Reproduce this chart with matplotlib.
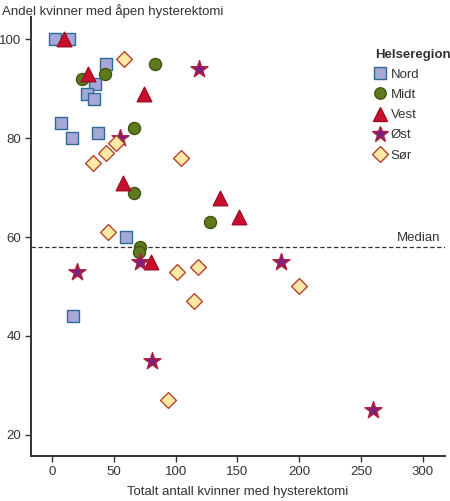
import matplotlib
matplotlib.use("Agg")
import matplotlib.pyplot as plt
from matplotlib.lines import Line2D

plt.rcParams['font.family'] = ['Liberation Sans', 'DejaVu Sans']

regions = ["Nord", "Midt", "Vest", "Øst", "Sør"]

nord_x = [2, 14, 44, 35, 28, 34, 7, 16, 37, 60, 17]
nord_y = [100, 100, 95, 91, 89, 88, 83, 80, 81, 60, 44]

midt_x = [24, 43, 83, 66, 66, 128, 71.5, 70]
midt_y = [92, 93, 95, 82, 69, 63, 58, 57]

vest_x = [10, 29, 74, 57, 136, 151, 80]
vest_y = [100, 93, 89, 71, 68, 64, 55]

ost_x = [119, 55, 71, 20, 81, 185, 260]
ost_y = [94, 80, 55, 53, 35, 55, 25]

sor_x = [58, 33, 44, 52, 104, 45, 101, 118, 115, 94, 200]
sor_y = [96, 75, 77, 79, 76, 61, 53, 54, 47, 27, 50]

median_value = 58

x_ticks = [0, 50, 100, 150, 200, 250, 300]
y_ticks = [20, 40, 60, 80, 100]

styles = {
    "Nord": dict(marker="s", s=70, facecolor="#a6a9d8", edgecolor="#2f6a96"),
    "Midt": dict(marker="o", s=75, facecolor="#5e7a1c", edgecolor="#3f5510"),
    "Vest": dict(marker="^", s=110, facecolor="#c8102e", edgecolor="#a00c24"),
    "Øst": dict(marker="*", s=165, facecolor="#7d1f7e", edgecolor="#b0203a"),
    "Sør": dict(marker="D", s=65, facecolor="#fde8a6", edgecolor="#b5452c"),
}
data = {
    "Nord": (nord_x, nord_y),
    "Midt": (midt_x, midt_y),
    "Vest": (vest_x, vest_y),
    "Øst": (ost_x, ost_y),
    "Sør": (sor_x, sor_y),
}

fig = plt.figure(figsize=(4.5, 5.01), dpi=100)
ax = fig.add_axes([0.069, 0.0898, 0.92, 0.876])

ax.axhline(median_value, color="#333333", lw=0.9, ls=(0, (3.5, 2)), zorder=1)

for r in regions:
    xs, ys = data[r]
    st = styles[r]
    ax.scatter(xs, ys, marker=st["marker"], s=st["s"], facecolor=st["facecolor"],
               edgecolor=st["edgecolor"], linewidths=1.0, zorder=3)

ax.set_xlim(-17, 318)
ax.set_ylim(15.7, 104.5)
ax.set_xticks(x_ticks)
ax.set_yticks(y_ticks)
for s in ["top", "right"]:
    ax.spines[s].set_visible(False)
for s in ["left", "bottom"]:
    ax.spines[s].set_color("#333333")
    ax.spines[s].set_linewidth(1.4)
ax.tick_params(axis="both", direction="out", length=4, width=1.0, color="#333333",
               labelcolor="#333333", labelsize=9.5, pad=3)

fig.text(0.004, 0.978, "Andel kvinner med åpen hysterektomi", fontsize=9.5,
         color="#333333", ha="left", va="center")
fig.text(0.527, 0.018, "Totalt antall kvinner med hysterektomi", fontsize=9.5,
         color="#333333", ha="center", va="center")

ax.text(314, median_value + 0.6, "Median", fontsize=9.5, color="#333333",
        ha="right", va="bottom")

handles = [Line2D([], [], linestyle="none", marker=styles[r]["marker"],
                  markersize=(styles[r]["s"] ** 0.5) * 0.95,
                  markerfacecolor=styles[r]["facecolor"],
                  markeredgecolor=styles[r]["edgecolor"], markeredgewidth=1.0)
           for r in regions]
leg = ax.legend(handles, regions, title="Helseregion", loc="upper left",
                bbox_to_anchor=(0.808, 0.949), frameon=False, fontsize=9.5,
                handlelength=0.8, handletextpad=0.4, labelspacing=0.6,
                borderpad=0.2, alignment="left")
leg.get_title().set_fontweight("bold")
leg.get_title().set_fontsize(9.5)
leg.get_title().set_color("#333333")
for t in leg.get_texts():
    t.set_color("#333333")

fig.savefig("out.png", dpi=100)
